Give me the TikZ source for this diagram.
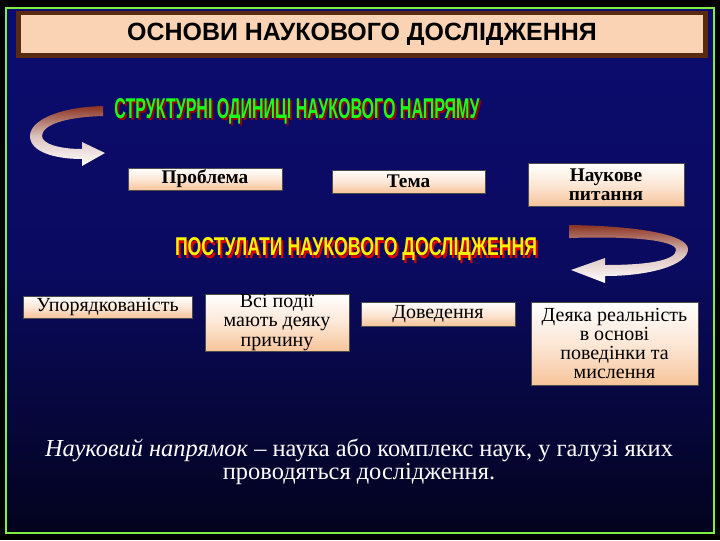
\documentclass[tikz,border=0pt]{standalone}
\usepackage{fontspec}
\usepackage{graphicx}
\setmainfont{Liberation Serif}
\newfontfamily\arialf{Liberation Sans}
\definecolor{peach}{HTML}{F7C49A}
\definecolor{gframe}{HTML}{7CF040}
\definecolor{brownbar}{HTML}{5A2A10}
\definecolor{navy}{HTML}{0C0C70}
\definecolor{navyd}{HTML}{03031E}
\definecolor{arrbrown}{HTML}{8B3322}
\tikzset{
 boxs/.style={draw=black!70,line width=0.4pt,top color=white,bottom color=peach,middle color=white!60!peach,font=\fontsize{15}{14.3}\selectfont,align=center,inner sep=0pt},
 boxb/.style={boxs,font=\bfseries\fontsize{14.5}{14.5}\selectfont},
 btxt/.style={text=white,font=\fontsize{18.3}{18}\selectfont}
}
\begin{document}
\begin{tikzpicture}[x=0.75pt,y=-0.75pt]
\fill[black] (0,0) rectangle (720,540);
\shade[top color=navy,bottom color=navyd,middle color=navy!80!navyd] (6,8) rectangle (714,533);
\draw[gframe,line width=2.2pt] (6,8) rectangle (714,533);
% title bar
\fill[brownbar] (16,11) rectangle (708,58);
\fill[peach!75!white] (21,15) rectangle (703,53);
\node[font=\arialf\bfseries\fontsize{18.7}{18}\selectfont] (title) at (362,34) {ОСНОВИ НАУКОВОГО ДОСЛІДЖЕННЯ};
% headings
\node[text=red!60!black,inner sep=0pt] (h1s) at (299,113) {\resizebox{273.75pt}{15pt}{\arialf\bfseries СТРУКТУРНІ ОДИНИЦІ НАУКОВОГО НАПРЯМУ}};
\node[text=green!90!white,inner sep=0pt] (h1) at (297,111) {\resizebox{273.75pt}{15pt}{\arialf\bfseries СТРУКТУРНІ ОДИНИЦІ НАУКОВОГО НАПРЯМУ}};
\node[text=red!85!black,inner sep=0pt] (h2s) at (358,252) {\resizebox{271.5pt}{13.5pt}{\arialf\bfseries ПОСТУЛАТИ НАУКОВОГО ДОСЛІДЖЕННЯ}};
\node[text=yellow,inner sep=0pt] (h2) at (356,249) {\resizebox{271.5pt}{13.5pt}{\arialf\bfseries ПОСТУЛАТИ НАУКОВОГО ДОСЛІДЖЕННЯ}};
% arrows
\shade[top color=arrbrown,bottom color=white,middle color=arrbrown!30!white]
 (103,106) .. controls (60,107) and (30,120) .. (30,136) .. controls (30,152) and (55,159) .. (82,159) -- (82,166) -- (105,153) -- (82,142) -- (82,149) .. controls (60,149) and (42,144) .. (42,136) .. controls (42,125) and (65,117) .. (103,116) -- cycle;
\shade[top color=arrbrown,bottom color=white,middle color=arrbrown!30!white]
 (569,225) .. controls (640,226) and (688,235) .. (688,249) .. controls (688,265) and (650,276) .. (605,276) -- (605,283) -- (571,270) -- (605,258) -- (605,265) .. controls (650,265) and (676,260) .. (676,250) .. controls (676,240) and (630,236) .. (569,238) -- cycle;
% boxes row 1
\node[boxb,minimum width=115.5pt,minimum height=16.5pt] (p) at (205,179) {Проблема};
\node[boxb,minimum width=114.75pt,minimum height=17.25pt] (t) at (408.5,181.5) {Тема};
\node[boxb,minimum width=117pt,minimum height=32.25pt] (n) at (606,184.5) {Наукове\\питання};
% row 2
\node[boxs,minimum width=126.75pt,minimum height=16.5pt] (u) at (107.5,307) {Упорядкованість};
\node[boxs,minimum width=108pt,minimum height=42.75pt] (v) at (277,322.5) {Всі події\\мають деяку\\причину};
\node[boxs,minimum width=115.5pt,minimum height=18pt] (d) at (438,314) {Доведення};
\node[boxs,minimum width=125.25pt,minimum height=62.25pt] (r) at (614.5,343.5) {Деяка реальність\\в основі\\поведінки та\\мислення};
% bottom text
\node[btxt] (l1) at (359,450) {\textit{Науковий напрямок} – наука або комплекс наук, у галузі яких};
\node[btxt] (l2) at (359,474) {проводяться дослідження.};
\end{tikzpicture}
\end{document}
